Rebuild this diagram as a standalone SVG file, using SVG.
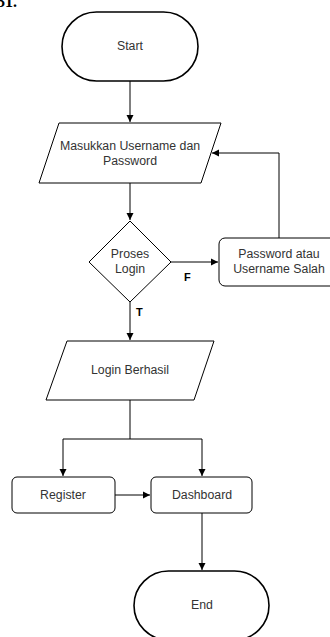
<svg xmlns="http://www.w3.org/2000/svg" width="330" height="637" viewBox="0 0 330 637">
<defs>
<style>
.n{fill:#fff;stroke:#000;stroke-width:1}
.t{fill:#fff;stroke:#000;stroke-width:1.6}
.l{font-family:"Liberation Sans",Arial,sans-serif;font-size:12.3px;fill:#333;text-anchor:middle}
.b{font-family:"Liberation Sans",Arial,sans-serif;font-size:11px;font-weight:bold;fill:#000}
.c{fill:none;stroke:#000;stroke-width:1}
</style>
<marker id="a" markerWidth="8" markerHeight="8" refX="7" refY="4" orient="auto" markerUnits="userSpaceOnUse">
<path d="M0,0.5 L7,4 L0,7.5 Z" fill="#000"/>
</marker>
</defs>
<rect width="330" height="637" fill="#fff"/>
<text x="-3" y="7" font-family="Liberation Serif,serif" font-size="16" font-weight="bold" fill="#000">31.</text>
<g id="connectors">
<path class="c" d="M130,81 V122" marker-end="url(#a)"/>
<path class="c" d="M130,183 V220" marker-end="url(#a)"/>
<path class="c" d="M171,262 H218" marker-end="url(#a)"/>
<path class="c" d="M279,238 V153 H212" marker-end="url(#a)"/>
<path class="c" d="M130,302 V340" marker-end="url(#a)"/>
<path class="c" d="M130,400 V439"/>
<path class="c" d="M63,439 H202"/>
<path class="c" d="M63,439 V476" marker-end="url(#a)"/>
<path class="c" d="M202,439 V476" marker-end="url(#a)"/>
<path class="c" d="M115,495 H150" marker-end="url(#a)"/>
<path class="c" d="M202,513 V570" marker-end="url(#a)"/>
<text class="b" x="184" y="281">F</text>
<text class="b" x="136" y="316">T</text>
</g>
<g id="start">
<rect class="t" x="62" y="12" width="136" height="69" rx="34.5"/>
<text class="l" x="130" y="50">Start</text>
</g>
<g id="input">
<polygon class="n" points="59,123 221,123 201,183 39,183"/>
<text class="l" x="130" y="150">Masukkan Username dan</text>
<text class="l" x="130" y="165">Password</text>
</g>
<g id="proses">
<polygon class="n" points="130,221 171,262 130,302 89,262"/>
<text class="l" x="130" y="258">Proses</text>
<text class="l" x="130" y="273">Login</text>
</g>
<g id="salah">
<rect class="n" x="219" y="238" width="120" height="48" rx="6"/>
<text class="l" x="279" y="258">Password atau</text>
<text class="l" x="279" y="273">Username Salah</text>
</g>
<g id="berhasil">
<polygon class="n" points="67,341 214,341 194,400 46,400"/>
<text class="l" x="130" y="374">Login Berhasil</text>
</g>
<g id="register">
<rect class="n" x="12" y="477" width="103" height="36" rx="5"/>
<text class="l" x="63" y="499">Register</text>
</g>
<g id="dashboard">
<rect class="n" x="151" y="477" width="101" height="36" rx="5"/>
<text class="l" x="202" y="499">Dashboard</text>
</g>
<g id="end">
<rect class="t" x="134" y="571" width="135" height="69" rx="34.5"/>
<text class="l" x="202" y="609">End</text>
</g>
</svg>
